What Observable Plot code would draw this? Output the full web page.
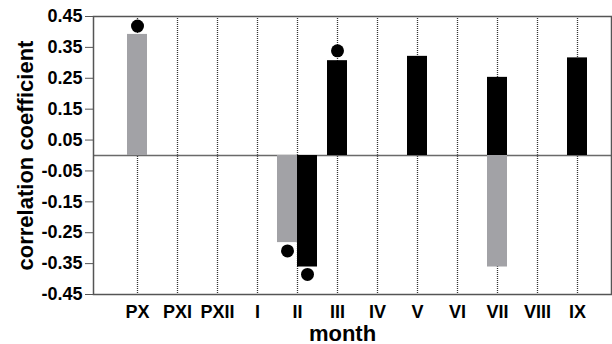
<!DOCTYPE html>
<html>
<head>
<meta charset="utf-8">
<script src="https://cdn.jsdelivr.net/npm/d3@7"></script>
<script src="https://cdn.jsdelivr.net/npm/@observablehq/plot@0.6"></script>
<style>
  html, body { margin: 0; padding: 0; background: #fff; }
</style>
</head>
<body>
<div id="chart"></div>
<script>
// ---- data ----
const months = ["PX", "PXI", "PXII", "I", "II", "III", "IV", "V", "VI", "VII", "VIII", "IX"];

const greyMonths = ["PX", "II", "VII"];
const greyValues = [0.392, -0.282, -0.361];

const blackMonths = ["II", "III", "V", "VII", "IX"];
const blackValues = [-0.361, 0.307, 0.321, 0.253, 0.316];

const dotMonths = ["PX", "II", "II", "III"];
const dotValues = [0.419, -0.309, -0.385, 0.339];
const dotSeries = ["grey", "grey", "black", "black"];

const yTicks = [-0.45, -0.35, -0.25, -0.15, -0.05, 0.05, 0.15, 0.25, 0.35, 0.45];

// ---- build tables ----
const bars = [
  ...greyMonths.map((m, i) => ({month: m, value: greyValues[i], series: "grey"})),
  ...blackMonths.map((m, i) => ({month: m, value: blackValues[i], series: "black"}))
];
// bars sharing a month on the same side of zero are drawn side by side
function side(month, series, value) {
  const other = bars.find(b => b.month === month && b.series !== series);
  if (!other || Math.sign(other.value) !== Math.sign(value)) return 0;
  return series === "grey" ? -1 : 1;
}
bars.forEach(b => b.side = side(b.month, b.series, b.value));
const dots = dotMonths.map((m, i) => ({month: m, value: dotValues[i], series: dotSeries[i]}));
dots.forEach(d => d.side = side(d.month, d.series, d.value));

const colors = {grey: "#a2a2a6", black: "#000000"};
const half = 10;

const plot = Plot.plot({
  width: 612,
  height: 344,
  marginTop: 16,
  marginBottom: 50,
  marginLeft: 93,
  marginRight: 1,
  style: {fontFamily: "'Liberation Sans', Arial, sans-serif", fontWeight: "bold", fontSize: "18px", color: "#000", background: "#fff"},
  x: {type: "band", domain: months, paddingInner: 0.505, paddingOuter: 0.656, align: 0.584},
  y: {domain: [-0.45, 0.45]},
  marks: [
    Plot.ruleX(months, {x: d => d, stroke: "#333", strokeWidth: 1.3, strokeDasharray: "1,1"}),
    Plot.ruleY([0], {stroke: "#6a6a6a", strokeWidth: 1.5}),
    Plot.barY(bars.filter(d => d.side === 0), {x: "month", y: "value", fill: d => colors[d.series]}),
    Plot.barY(bars.filter(d => d.side === -1), {x: "month", y: "value", fill: d => colors[d.series], dx: -half}),
    Plot.barY(bars.filter(d => d.side === 1), {x: "month", y: "value", fill: d => colors[d.series], dx: half}),
    Plot.dot(dots.filter(d => d.side === 0), {x: "month", y: "value", r: 6.5, fill: "#000", stroke: "none"}),
    Plot.dot(dots.filter(d => d.side === -1), {x: "month", y: "value", r: 6.5, fill: "#000", stroke: "none", dx: -half}),
    Plot.dot(dots.filter(d => d.side === 1), {x: "month", y: "value", r: 6.5, fill: "#000", stroke: "none", dx: half}),
    Plot.frame({stroke: "#555", strokeWidth: 1.5}),
    Plot.axisY({ticks: yTicks, tickSize: 8, tickPadding: 3, tickFormat: d => d.toFixed(2), label: null, stroke: "#555"}),
    Plot.axisX({tickSize: 0, tickPadding: 11, label: null}),
    Plot.text(["month"], {frameAnchor: "bottom", textAnchor: "middle", dx: -10, dy: 46, lineAnchor: "bottom", fontSize: 22, fontWeight: "bold", fill: "#000"}),
    Plot.text(["correlation coefficient"], {frameAnchor: "left", textAnchor: "middle", dx: -61, rotate: -90, lineAnchor: "bottom", fontSize: 22, fontWeight: "bold", fill: "#000"})
  ]
});
document.getElementById("chart").appendChild(plot);
</script>
</body>
</html>
